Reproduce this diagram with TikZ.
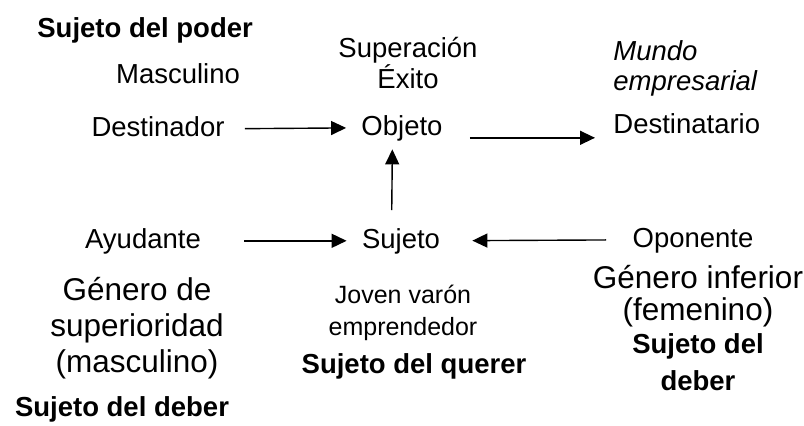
\documentclass[tikz,border=0pt]{standalone}
\usepackage{fontspec}
\setmainfont{Liberation Sans}
\usepackage{tikz}
\usetikzlibrary{arrows.meta}
\newcommand{\fsmain}{\fontsize{13.75pt}{15.5pt}\selectfont}
\newcommand{\fsbig}{\fontsize{15.75pt}{18pt}\selectfont}
\newcommand{\fssmall}{\fontsize{12.5pt}{16pt}\selectfont}

\begin{document}
\begin{tikzpicture}[x=0.5pt, y=-0.5pt,
  >={Triangle[length=7.5pt, width=7pt]},
  actant/.style={font=\fsmain, inner sep=0pt, text height=0.72em, text depth=0pt, anchor=base},
  gloss/.style={font=\fsmain, inner sep=0pt, anchor=base, align=center},
  link/.style={->, line width=0.7pt}]
\useasboundingbox (0,0) rectangle (804,425);
% actants
\node[actant] (dest)    at (158,136) {Destinador};
\node[actant] (obj)     at (402,135) {Objeto};
\node[actant, anchor=base west] (destino) at (613,133) {Destinatario};
\node[actant] (ayud)    at (143,248) {Ayudante};
\node[actant] (suj)     at (401,248) {Sujeto};
\node[actant] (opon)    at (693,247) {Oponente};
% glosses (multi-line ones sit on the baseline of their last line)
\node[gloss, anchor=base west, font=\fsmain\bfseries] (poder) at (37,37) {Sujeto del poder};
\node[gloss] (masc) at (178,83) {Masculino};
\node[gloss] (meta) at (408,88) {Superación\\Éxito};
\node[gloss, anchor=base west, align=left, font=\fsmain\itshape] (mundo) at (613,90) {Mundo\\[-0.5pt]empresarial};
\node[gloss, font=\fsbig] (gensup) at (137,372) {Género de\\superioridad\\(masculino)};
\node[gloss, font=\fsmain\bfseries] (deberizq) at (122,416) {Sujeto del deber};
\node[gloss, font=\fssmall] (joven) at (403,335) {Joven varón\\emprendedor};
\node[gloss, font=\fsmain\bfseries] (querer) at (414,373) {Sujeto del querer};
\node[gloss, font=\fsbig] (geninf) at (698,320) {Género inferior\\[-2pt](femenino)};
\node[gloss, font=\fsmain\bfseries] (deberder) at (698,390) {Sujeto del\\[3pt]deber};
% connectors
\draw[link, shorten <=10pt, shorten >=7.5pt] (dest.east) -- (obj.west);
\draw[link, shorten <=13.5pt, shorten >=9pt] ([yshift=-5pt]obj.east) -- ([yshift=-6pt]destino.west);
\draw[link, shorten <=11.5pt, shorten >=7pt] ([xshift=-4.75pt]suj.north) -- ([xshift=-4.75pt]obj.south);
\draw[link, shorten <=21.5pt, shorten >=7.5pt] (ayud.east) -- (suj.west);
\draw[link, shorten <=13pt, shorten >=16pt] (opon.west) -- (suj.east);
\end{tikzpicture}
\end{document}
